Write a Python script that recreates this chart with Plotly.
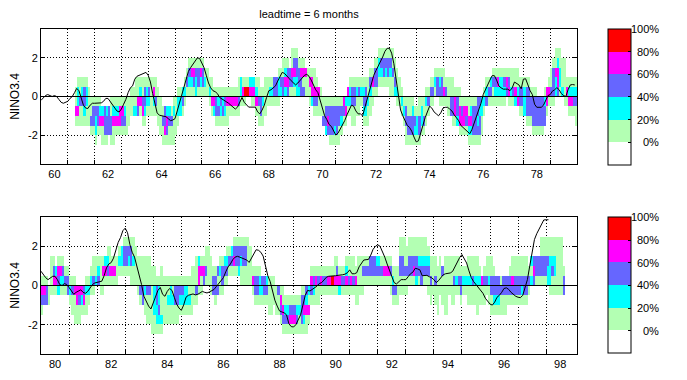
import plotly.graph_objects as go

TITLE = "leadtime = 6 months"
Y_TITLE = "NINO3.4"
BIN_CENTERS = [2.75, 2.25, 1.75, 1.25, 0.75, 0.25, -0.25, -0.75, -1.25, -1.75, -2.25, -2.75]
CLASS_COLORS = ["#FFFFFF", "#B3FFB3", "#00FFFF", "#6666FF", "#FF00FF", "#FF0000"]
CBAR_TICKS = [0, 20, 40, 60, 80, 100]
CBAR_LABELS = ["0%", "20%", "40%", "60%", "80%", "100%"]

TOP_START = 1960
BOT_START = 1980
TOP_XRANGE = [1960, 1980]
BOT_XRANGE = [1980, 1999.1]
TOP_LABEL_YEARS = [1960, 1962, 1964, 1966, 1968, 1970, 1972, 1974, 1976, 1978]
TOP_LABELS = ["60", "62", "64", "66", "68", "70", "72", "74", "76", "78"]
BOT_LABEL_YEARS = [1980, 1982, 1984, 1986, 1988, 1990, 1992, 1994, 1996, 1998]
BOT_LABELS = ["80", "82", "84", "86", "88", "90", "92", "94", "96", "98"]
TOP_GRID_YEARS = list(range(1961, 1980))
BOT_GRID_YEARS = list(range(1981, 1999))

# observed NINO3.4 anomaly, monthly
TOP_NINO = [
    -0.2, -0.05, 0.05, 0.1, 0.05, 0.0, 0.05, 0.0, -0.15, -0.3, -0.35, -0.3,
    -0.25, -0.1, 0.0, 0.2, 0.42, 0.3, -0.1, -0.45, -0.6, -0.62, -0.45, -0.35,
    -0.35, -0.35, -0.35, -0.33, -0.25, -0.1, -0.1, -0.25, -0.45, -0.6, -0.75, -0.8,
    -0.65, -0.4, -0.15, 0.2, 0.45, 0.55, 0.9, 1.05, 1.1, 1.15, 1.2, 1.25,
    1.1, 0.75, 0.15, -0.4, -0.85, -0.97, -1.0, -1.0, -1.05, -1.15, -1.25, -1.22,
    -1.15, -0.75, -0.35, 0.05, 0.55, 0.95, 1.3, 1.5, 1.65, 1.82, 2.0, 1.98,
    1.75, 1.5, 1.1, 0.7, 0.45, 0.3, 0.25, 0.15, -0.05, -0.12, -0.2, -0.25,
    -0.35, -0.45, -0.55, -0.65, -0.55, -0.25, -0.05, -0.3, -0.45, -0.55, -0.55, -0.55,
    -0.55, -0.8, -0.9, -0.7, -0.45, -0.05, 0.3, 0.35, 0.45, 0.55, 0.8, 1.05,
    1.25, 1.2, 1.05, 0.95, 0.82, 0.7, 0.6, 0.7, 0.85, 0.98, 1.1, 1.15,
    1.05, 0.85, 0.6, 0.35, 0.2, -0.25, -0.7, -1.0, -1.2, -1.45, -1.55, -1.75,
    -2.0, -1.9, -1.7, -1.5, -1.25, -0.95, -0.7, -0.45, -0.5, -0.75, -0.9, -0.9,
    -1.0, -0.6, -0.2, 0.3, 0.72, 1.1, 1.35, 1.57, 1.8, 2.05, 2.34, 2.5,
    2.5, 2.25, 1.7, 0.9, 0.0, -0.7, -1.0, -1.3, -1.5, -1.6, -1.8, -2.1,
    -2.35, -2.3, -1.95, -1.5, -1.1, -0.8, -0.5, -0.6, -0.8, -0.9, -1.0, -0.85,
    -0.6, -0.56, -0.56, -0.65, -0.75, -0.95, -1.1, -1.25, -1.5, -1.6, -1.75, -1.85,
    -1.93, -1.7, -1.35, -1.0, -0.75, -0.35, 0.1, 0.38, 0.65, 0.85, 1.08, 1.08,
    0.85, 0.55, 0.45, 0.38, 0.38, 0.38, 0.3, 0.45, 0.75, 0.65, 0.6, 0.4,
    0.9, 0.92, 0.6, 0.3, 0.1, -0.4, -0.56, -0.56, -0.56, -0.45, -0.2, 0.05,
    0.1, 0.28, 0.35, 0.46, 0.35, 0.15, 0.05, 0.0, 0.35, 0.6, 0.62, 0.6,
]

BOT_NINO = [
    0.73, 0.55, 0.4, 0.3, 0.4, 0.47, 0.47, 0.3, 0.05, 0.0, 0.1, 0.05,
    -0.1, -0.3, -0.45, -0.35, -0.3, -0.22, -0.35, -0.4, -0.3, -0.1, 0.05, 0.13,
    0.17, 0.2, 0.22, 0.5, 0.9, 1.1, 1.17, 1.4, 1.8, 2.2, 2.45, 2.8,
    2.93, 2.7, 2.1, 1.7, 1.45, 1.0, 0.5, 0.05, -0.55, -0.8, -1.05, -1.2,
    -0.9, -0.55, -0.25, -0.1, -0.45, -0.55, -0.3, -0.15, -0.25, -0.6, -0.95, -1.15,
    -1.27, -1.0, -0.6, -0.5, -0.45, -0.43, -0.48, -0.45, -0.38, -0.3, -0.35, -0.38,
    -0.33, -0.25, -0.2, -0.05, 0.1, 0.3, 0.4, 0.7, 0.95, 1.1, 1.32, 1.45,
    1.49, 1.45, 1.4, 1.32, 1.3, 1.18, 1.4, 1.65, 1.83, 1.8, 1.7, 1.5,
    1.0, 0.5, 0.2, -0.25, -0.75, -1.05, -1.3, -1.35, -1.4, -1.5, -1.95, -2.1,
    -2.12, -2.0, -1.7, -1.5, -1.0, -0.5, -0.25, -0.28, -0.2, -0.12, -0.03, 0.1,
    0.15, 0.28, 0.42, 0.47, 0.47, 0.47, 0.5, 0.52, 0.52, 0.55, 0.58, 0.65,
    0.8, 0.6, 0.6, 0.65, 0.95, 1.1, 1.3, 1.32, 1.33, 1.55, 1.85, 2.0,
    2.08, 2.0, 1.75, 1.45, 1.1, 0.8, 0.4, 0.15, 0.08, 0.2, 0.3, 0.3,
    0.3, 0.45, 0.6, 0.68, 0.88, 0.85, 0.8, 0.5, 0.5, 0.52, 0.45, 0.4,
    0.3, 0.15, 0.25, 0.42, 0.55, 0.6, 0.63, 0.64, 0.72, 0.98, 1.2, 1.42,
    1.58, 1.35, 1.15, 0.75, 0.4, 0.2, 0.05, -0.05, -0.2, -0.4, -0.65, -0.8,
    -0.95, -1.0, -0.85, -0.6, -0.5, -0.35, -0.15, -0.12, -0.2, -0.35, -0.45, -0.55,
    -0.6, -0.62, -0.5, -0.1, 0.3, 1.0, 1.7, 2.35, 2.65, 2.9, 3.15, 3.35,
    3.36, 3.36,
]

# forecast probability class per month; each string lists the bins from
# [2.5,3] (first char) down to [-3,-2.5] (last char).
# 0 = none, 1 = 0-20%, 2 = 20-40%, 3 = 40-60%, 4 = 60-80%, 5 = 80-100%
TOP_PROB = [
    "000000000000", "000000000000", "000000000000", "000000000000", "000000000000", "000000000000",
    "000000000000", "000000000000", "000000000000", "000000000000", "000000000000", "000000000000",
    "000000000000", "000000000000", "000000000000", "000001141000", "000012241000", "000011311000",
    "000012311000", "000013321000", "000012211000", "000001111000", "000000113100", "000000133100",
    "000000132210", "000000133100", "000000124100", "000000024110", "000000033310", "000000023310",
    "000000033300", "000000113310", "000000124110", "000000124100", "000000124100", "000000144100",
    "000000143100", "000000123100", "000000111100", "000000111000", "000001110000", "000001120000",
    "000011120000", "000011430000", "000012410000", "000011341000", "000013321000", "000012210000",
    "000013210000", "000011110000", "000014210000", "000011310000", "000001111000", "000000111100",
    "000000013110", "000000033410", "000000024310", "000000023110", "000000013110", "000000121110",
    "000000111100", "000001221000", "000001220000", "000002310000", "000012100000", "000131000000",
    "001321000000", "001421000000", "001431000000", "001322000000", "001331000000", "001421000000",
    "001331000000", "000121000000", "000111000000", "000012100000", "000011410000", "000001420000",
    "000001331000", "000001231000", "000001321000", "000001231000", "000001321000", "000001411000",
    "000001410000", "000001410000", "000001410000", "000001410000", "000011310000", "000022100000",
    "000014100000", "000015100000", "000015000000", "000024000000", "000024100000", "000024100000",
    "000012410000", "000011311000", "000001331000", "000001211000", "000011110000", "000011100000",
    "000012100000", "000012100000", "000033100000", "000033100000", "000122100000", "000132000000",
    "001133000000", "001242000000", "001343000000", "000331000000", "011431000000", "013421000000",
    "013322000000", "001332000000", "001433000000", "001413000000", "000411000000", "000111000000",
    "000141100000", "000144200000", "000114310000", "000014310000", "000004110000", "000001110000",
    "000000113000", "000000133200", "000000134300", "000000133310", "000000133310", "000000133210",
    "000000133310", "000000133110", "000000132100", "000000431000", "000000241000", "000004210000",
    "000012210000", "000013311000", "000013311000", "000012110000", "000013110000", "000012100000",
    "000012321000", "000013321000", "000011211000", "000132110000", "000141100000", "001331000000",
    "001331000000", "012210000000", "013210000000", "013310000000", "013210000000", "013310000000",
    "013211000000", "011311000000", "001132000000", "000112100000", "000011100000", "000001210000",
    "000000121000", "000000133110", "000000113310", "000000113310", "000000123310", "000000013210",
    "000000012210", "000000113310", "000000122100", "000000113100", "000001211000", "000001310000",
    "000013100000", "000013100000", "000121000000", "000133000000", "000123100000", "000133100000",
    "000114100000", "000013100000", "000011110000", "000011330000", "000011331000", "000001441000",
    "000001332000", "000001144100", "000000134100", "000000144100", "000000143100", "000000114210",
    "000000124210", "000000133310", "000000133310", "000000332310", "000000323310", "000000221100",
    "000001210000", "000012300000", "000013100000", "000023100000", "000131100000", "000132100000",
    "000142100000", "000122100000", "000122100000", "000132100000", "000143000000", "000134100000",
    "000112100000", "000113100000", "000114200000", "000112400000", "000013310000", "000013310000",
    "000012220000", "000013331000", "000013331000", "000001331000", "000001333100", "000001333100",
    "000000333100", "000000333100", "000000333100", "000001233000", "000004410000", "000014100000",
    "000113100000", "001333100000", "011422000000", "012443000000", "011221000000", "001112000000",
    "001111100000", "000014100000", "000012410000", "000012410000", "000012310000", "000012311000",
]

BOT_PROB = [
    "000001431000", "000001430000", "000001330000", "000000110000", "000111100000", "000134100000",
    "000024100000", "000143200000", "000142100000", "000132100000", "000013100000", "000013300000",
    "000001210000", "000001311000", "000001411100", "000000441100", "000000431100", "000000421000",
    "000000341000", "000001211000", "000001210000", "000012100000", "000113100000", "000112000000",
    "000123000000", "000111100000", "000141100000", "000241000000", "001231000000", "001141000000",
    "000141000000", "000141000000", "000111000000", "001210000000", "002210000000", "013310000000",
    "013310000000", "013210000000", "013311000000", "011211000000", "001111000000", "000111100000",
    "000111310000", "000111330000", "000111211000", "000111311100", "000111311100", "000011111110",
    "000011222110", "000001332210", "000001223210", "000011111210", "000001111100", "000001111100",
    "000001121100", "000001221100", "000001121100", "000001331100", "000001331100", "000001321000",
    "000001321000", "000001221000", "000001221000", "000001121000", "000011111000", "000011110000",
    "000111310000", "000244100000", "000141100000", "000143000000", "001131000000", "001111000000",
    "000111100000", "000013300000", "000013310000", "000031300000", "000121100000", "000133100000",
    "000231000000", "001231000000", "001310000000", "002310000000", "013410000000", "013310000000",
    "013320000000", "013211000000", "013311000000", "013311000000", "011111000000", "001111000000",
    "000014100000", "000013310000", "000013310000", "000012210000", "000003210000", "000003310000",
    "000002310000", "000001111000", "000001111000", "000001110000", "000000111000", "000000311000",
    "000000143100", "000000114310", "000000012310", "000000012310", "000000013410", "000000013410",
    "000000013410", "000000012310", "000000012110", "000000133310", "000000134210", "000000324110",
    "000000214100", "000014310000", "000013210000", "000014110000", "000013110000", "000014100000",
    "000013100000", "000013100000", "000014100000", "000014100000", "000015100000", "000114100000",
    "000134100000", "000014200000", "000013100000", "000013100000", "000124100000", "000113100000",
    "000114100000", "000113100000", "000014110000", "000111110000", "000111100000", "000131100000",
    "000131000000", "000131000000", "000331000000", "000331000000", "000331000000", "000231000000",
    "000231000000", "000131000000", "000141000000", "000141000000", "000141000000", "000131100000",
    "000012310000", "000011310000", "000011110000", "011331100000", "011331100000", "011131100000",
    "001131100000", "011331000000", "011331000000", "011341000000", "011332000000", "011231000000",
    "011233000000", "011231000000", "011231000000", "001231100000", "000113110000", "000111100000",
    "000113110000", "000011111000", "000111100000", "000031110000", "000111111000", "000111111000",
    "000111100000", "000111110000", "000113110000", "000112100000", "000113100000", "000013310000",
    "000012100000", "000012100000", "000112110000", "000112110000", "000113110000", "000112110000",
    "000112111000", "000012110000", "000004110000", "000013110000", "000113100000", "000112110000",
    "000113311000", "000013321000", "000003321000", "000003321000", "000001311000", "000003311000",
    "000003311000", "000003310000", "000013310000", "000114310000", "000113310000", "000113310000",
    "000113310000", "000113210000", "000113310000", "000113310000", "000013100000", "000212000000",
    "000343000000", "000331000000", "000331000000", "011331000000", "011331000000", "011331000000",
    "011322000000", "011222100000", "011231100000", "011221100000", "011111100000", "011111100000",
    "011111100000", "000013300000", "000000000000", "000000000000", "000000000000", "000000000000",
    "000000000000",
]


def prob_matrix(cols):
    z = []
    for i in range(len(BIN_CENTERS)):
        row = []
        for c in cols:
            k = int(c[i])
            row.append(None if k == 0 else k * 20 - 10)
        z.append(row)
    return z


n_cls = len(CLASS_COLORS)
colorscale = []
for i, col in enumerate(CLASS_COLORS):
    colorscale.append([i / n_cls, col])
    colorscale.append([(i + 1) / n_cls, col])

FONT = "Liberation Sans"
ZMIN, ZMAX = -20, 100
PLOT_H = 325.0          # pixel height of the whole plotting region
CB_LEN = 136            # colorbar length in px
fig = go.Figure()
annotations = []


def add_panel(cols, nino, start, xa, ya, cb_y):
    xc = [start + (m + 0.5) / 12 for m in range(len(cols))]
    fig.add_trace(go.Heatmap(
        x=xc, y=BIN_CENTERS, z=prob_matrix(cols),
        colorscale=colorscale, zmin=ZMIN, zmax=ZMAX,
        xaxis=xa, yaxis=ya, hoverongaps=False,
        colorbar=dict(
            x=1.0578, xanchor="left", y=cb_y, yanchor="middle",
            len=CB_LEN, lenmode="pixels", thickness=23, thicknessmode="pixels",
            outlinewidth=1, outlinecolor="black", xpad=0, ypad=0,
            tickmode="array", tickvals=CBAR_TICKS, ticktext=[""] * len(CBAR_TICKS),
            ticks="inside", ticklen=3, tickcolor="black",
            tickfont=dict(family=FONT, size=11, color="black"),
        ),
    ))
    # colorbar labels, right-aligned beside the bar
    bottom = cb_y - CB_LEN / 2 / PLOT_H
    for v, t in zip(CBAR_TICKS, CBAR_LABELS):
        annotations.append(dict(
            xref="paper", yref="paper", x=1.1567, xanchor="right",
            y=bottom + (v - ZMIN) / (ZMAX - ZMIN) * CB_LEN / PLOT_H, yanchor="middle",
            text=t, showarrow=False, font=dict(family=FONT, size=11, color="black"),
        ))
    xl = [start + m / 12 for m in range(len(nino))]
    fig.add_trace(go.Scatter(
        x=xl, y=nino, mode="lines", line=dict(color="black", width=1),
        xaxis=xa, yaxis=ya, showlegend=False, hoverinfo="skip",
    ))


add_panel(TOP_PROB, TOP_NINO, TOP_START, "x", "y", 0.7908)
add_panel(BOT_PROB, BOT_NINO, BOT_START, "x2", "y2", 0.2108)


def xaxis_cfg(rng, label_years, labels, grid_years, anchor):
    return dict(
        domain=[0, 1], anchor=anchor, range=rng,
        tickmode="array", tickvals=[y + 0.5 for y in label_years], ticktext=labels,
        ticks="", showgrid=False, zeroline=False,
        showline=True, linecolor="black", linewidth=1, mirror=True,
        tickfont=dict(family=FONT, size=11, color="black"),
        minor=dict(tickmode="array", tickvals=grid_years, ticks="inside",
                   ticklen=4, tickcolor="black", showgrid=True,
                   gridcolor="black", gridwidth=1, griddash="1px,2px"),
    )


def yaxis_cfg(domain, anchor):
    return dict(
        domain=domain, anchor=anchor, range=[-3.5, 3.5],
        tickmode="array", tickvals=[-2, 0, 2], ticktext=["-2", "0", "2"],
        ticks="inside", ticklen=4, tickcolor="black",
        showgrid=True, gridcolor="black", gridwidth=1, griddash="1px,2px",
        zeroline=False, showline=True, linecolor="black", linewidth=1, mirror="ticks",
        tickfont=dict(family=FONT, size=11, color="black"),
        title=dict(text=Y_TITLE, font=dict(family=FONT, size=12, color="black"), standoff=6),
    )


# the page body adds an 8px offset, so margins are reduced by 8px on the left/top
fig.update_layout(
    width=687, height=380,
    margin=dict(l=33, r=118, t=21, b=34, autoexpand=False),
    paper_bgcolor="white", plot_bgcolor="white",
    showlegend=False,
    title=dict(text=TITLE, x=0.5, xref="paper", xanchor="center",
               y=1, yref="container", yanchor="top",
               pad=dict(t=2, b=0, l=0, r=0),
               font=dict(family=FONT, size=11, color="black")),
    xaxis=xaxis_cfg(TOP_XRANGE, TOP_LABEL_YEARS, TOP_LABELS, TOP_GRID_YEARS, "y"),
    yaxis=yaxis_cfg([0.5846, 1.0], "x"),
    xaxis2=xaxis_cfg(BOT_XRANGE, BOT_LABEL_YEARS, BOT_LABELS, BOT_GRID_YEARS, "y2"),
    yaxis2=yaxis_cfg([0.0, 0.4215], "x2"),
    annotations=annotations,
    shapes=[
        dict(type="line", xref="x domain", x0=0, x1=1, yref="y", y0=0, y1=0,
             line=dict(color="black", width=1), layer="above"),
        dict(type="line", xref="x2 domain", x0=0, x1=1, yref="y2", y0=0, y1=0,
             line=dict(color="black", width=1), layer="above"),
    ],
)

fig.write_html("out.html")
